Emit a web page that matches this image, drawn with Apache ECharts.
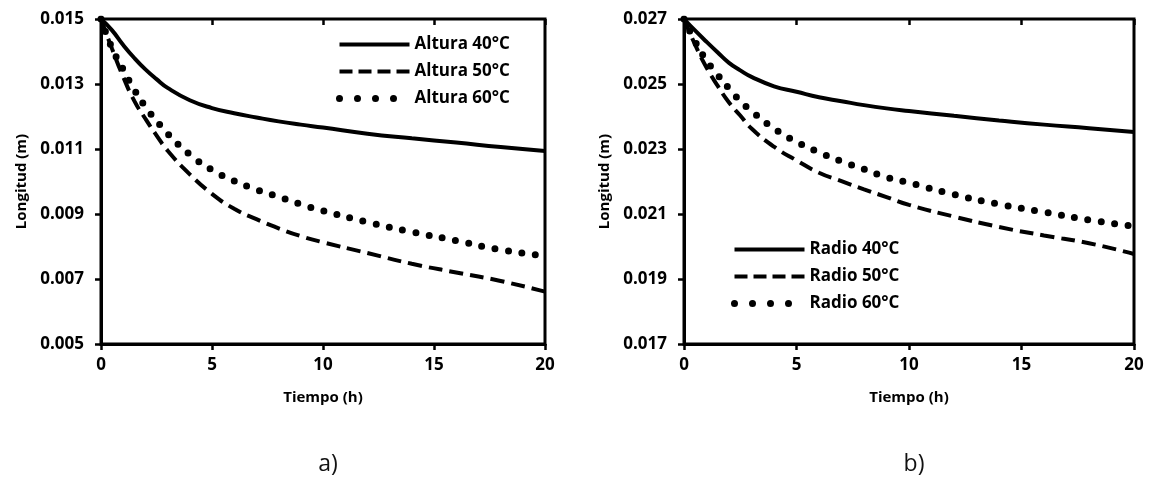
<!DOCTYPE html>
<html>
<head>
<meta charset="utf-8">
<script src="https://cdn.jsdelivr.net/npm/echarts@6/dist/echarts.min.js"></script>
<style>
  html, body { margin: 0; padding: 0; background: #fff; }
  #chart { width: 1154px; height: 502px; }
</style>
</head>
<body>
<div id="chart"></div>
<script>
// tiempo (h)
var tiempo = [0, 0.5, 1, 1.5, 2, 2.5, 3, 4, 5, 6, 7, 8, 9, 10, 12, 14, 16, 18, 20];

// a) altura (m)
var altura40 = [0.0150, 0.01465, 0.0142, 0.0138, 0.01345, 0.01315, 0.01288, 0.0125, 0.01226, 0.0121, 0.01197, 0.01185, 0.01175, 0.01166, 0.01147, 0.01133, 0.0112, 0.01106, 0.01094];
var altura50 = [0.0150, 0.01408, 0.01322, 0.01248, 0.01193, 0.01142, 0.01095, 0.01022, 0.00962, 0.00916, 0.00884, 0.00856, 0.00832, 0.00813, 0.0078, 0.00747, 0.0072, 0.00694, 0.00661];
var altura60 = [0.0150, 0.0141, 0.01345, 0.01282, 0.0123, 0.01187, 0.01147, 0.01083, 0.01036, 0.01002, 0.00975, 0.00953, 0.0093, 0.0091, 0.00875, 0.00845, 0.00818, 0.0079, 0.00771];

// b) radio (m)
var radio40 = [0.0270, 0.02664, 0.0263, 0.02597, 0.02565, 0.02542, 0.02522, 0.02493, 0.02476, 0.02459, 0.02447, 0.02435, 0.02425, 0.02417, 0.02402, 0.02388, 0.02375, 0.02364, 0.02352];
var radio50 = [0.0270, 0.0262, 0.02551, 0.02494, 0.02443, 0.02403, 0.02363, 0.02307, 0.02265, 0.02227, 0.02201, 0.02176, 0.02152, 0.02128, 0.02092, 0.0206, 0.02034, 0.0201, 0.01977];
var radio60 = [0.0270, 0.0263, 0.02572, 0.02528, 0.02486, 0.02448, 0.02417, 0.02363, 0.02322, 0.0229, 0.02262, 0.02238, 0.02213, 0.02196, 0.0216, 0.0213, 0.02106, 0.02082, 0.02062];

var namesA = ['Altura 40°C', 'Altura 50°C', 'Altura 60°C'];
var namesB = ['Radio 40°C', 'Radio 50°C', 'Radio 60°C'];
var yRangeA = [0.005, 0.015];
var yRangeB = [0.017, 0.027];

var font = '"Open Sans", "DejaVu Sans", sans-serif';

function pts(vals) {
  return tiempo.map(function (t, i) { return [t, vals[i]]; });
}

var styles = [
  { color: '#000', width: 4, type: 'solid' },
  { color: '#000', width: 4, type: [14, 7] },
  { color: '#000', width: 7, type: [0, 13.5], cap: 'round' }
];
var legendStyles = [
  styles[0],
  { color: '#000', width: 4, type: [13, 6] },
  { color: '#000', width: 7, type: [0, 18], cap: 'round' }
];

function xAx(grid, inside) {
  return {
    type: 'value', gridIndex: grid, min: 0, max: 20, interval: 5,
    name: inside ? '' : 'Tiempo (h)', nameLocation: 'middle', nameGap: 46,
    nameTextStyle: { color: '#000', fontWeight: 'bold', fontSize: 15, fontFamily: font },
    axisLine: { show: !inside, lineStyle: { color: '#000', width: 3 } },
    axisTick: { show: true, inside: inside, length: 6, lineStyle: { color: '#000', width: 2.5 } },
    axisLabel: { show: !inside, margin: 13, color: '#000', fontWeight: 'bold', fontSize: 17, fontFamily: font },
    splitLine: { show: false }
  };
}

function yAx(grid, range, inside) {
  return {
    type: 'value', gridIndex: grid, min: range[0], max: range[1], interval: 0.002,
    name: inside ? '' : 'Longitud (m)', nameLocation: 'middle', nameGap: 72,
    nameTextStyle: { color: '#000', fontWeight: 'bold', fontSize: 15, fontFamily: font },
    axisLine: { show: !inside, lineStyle: { color: '#000', width: 3 } },
    axisTick: { show: true, inside: inside, length: 6, lineStyle: { color: '#000', width: 2.5 } },
    axisLabel: {
      show: !inside, margin: 17, color: '#000', fontWeight: 'bold', fontSize: 17, fontFamily: font,
      formatter: function (v) { return v.toFixed(3); }
    },
    splitLine: { show: false }
  };
}

function legendAt(names, left, top) {
  return {
    data: names.map(function (n, i) {
      return {
        name: n,
        itemStyle: { color: 'rgba(0,0,0,0)', borderWidth: 0 },
        lineStyle: legendStyles[i]
      };
    }),
    orient: 'vertical', left: left, top: top, padding: 0,
    itemWidth: 70, itemHeight: 14, itemGap: 10,
    textStyle: { color: '#000', fontWeight: 'bold', fontSize: 17, lineHeight: 14, fontFamily: font }
  };
}

var series = [];
[altura40, altura50, altura60].forEach(function (d, i) {
  series.push({ name: namesA[i], type: 'line', xAxisIndex: 0, yAxisIndex: 0, data: pts(d),
    smooth: true, symbol: 'none', lineStyle: styles[i], itemStyle: { color: '#000' } });
});
[radio40, radio50, radio60].forEach(function (d, i) {
  series.push({ name: namesB[i], type: 'line', xAxisIndex: 1, yAxisIndex: 1, data: pts(d),
    smooth: true, symbol: 'none', lineStyle: styles[i], itemStyle: { color: '#000' } });
});

var chart = echarts.init(document.getElementById('chart'), null, { renderer: 'canvas' });
chart.setOption({
  animation: false,
  backgroundColor: '#fff',
  title: [
    { text: 'a)', left: 323, top: 448, textAlign: 'center',
      textStyle: { color: '#111', fontWeight: 'normal', fontSize: 23, fontFamily: font } },
    { text: 'b)', left: 909, top: 448, textAlign: 'center',
      textStyle: { color: '#111', fontWeight: 'normal', fontSize: 23, fontFamily: font } }
  ],
  grid: [
    { left: 101, top: 19, width: 444, height: 325, show: true, borderColor: '#000', borderWidth: 3, containLabel: false },
    { left: 684, top: 19, width: 450, height: 325, show: true, borderColor: '#000', borderWidth: 3, containLabel: false }
  ],
  xAxis: [xAx(0, false), xAx(1, false), xAx(0, true), xAx(1, true)],
  yAxis: [yAx(0, yRangeA, false), yAx(1, yRangeB, false), yAx(0, yRangeA, true), yAx(1, yRangeB, true)],
  legend: [legendAt(namesA, 336, 36), legendAt(namesB, 731, 241)],
  series: series
});
</script>
</body>
</html>
